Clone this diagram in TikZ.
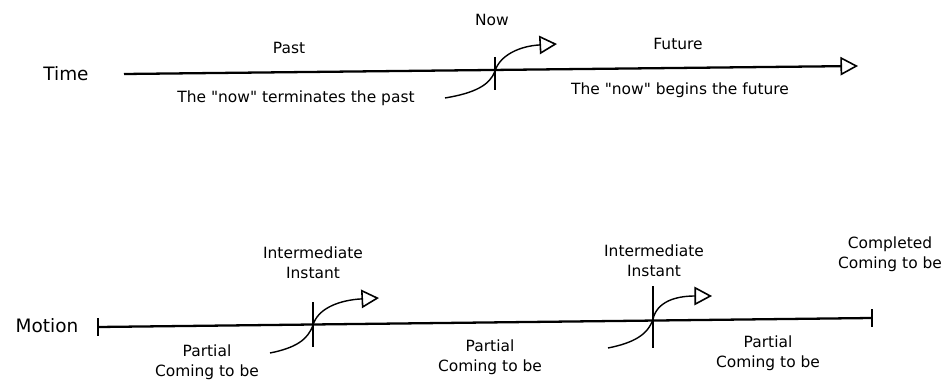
\documentclass[tikz,border=0pt]{standalone}
\usepackage{fontspec}
\setmainfont{DejaVu Sans}
\usetikzlibrary{arrows.meta}
\begin{document}
\begin{tikzpicture}[x=0.02cm,y=-0.02cm,
  axis/.style={line width=1.3pt},
  tickmark/.style={line width=1.1pt},
  hook/.style={line width=0.8pt},
  opentip/.style={-{Triangle[open,length=10pt,width=10.5pt,line width=0.9pt]}},
  lbl/.style={font=\fontsize{8.8}{11.5}\selectfont, inner sep=0pt, align=center},
  side/.style={font=\fontsize{10.5}{12}\selectfont, inner sep=0pt}]
\useasboundingbox (0,0) rectangle (945,381);

% ---- Time ----
\node[side] (time) at (66,74) {Time};
\coordinate (tstart) at (124,74);
\coordinate (tend) at (858,66);
\coordinate (now) at (495,71);
\draw[axis,opentip] (tstart) -- (tend);
\draw[tickmark] (495,57) coordinate (nowtop) -- (495,90) coordinate (nowbot);
\coordinate (nowin) at (445,98);
\coordinate (nowout) at (557,44);
\draw[hook,opentip] (nowin) .. controls (475,93) and (490,85) .. (now)
  .. controls (500,55) and (520,46) .. (nowout);

\node[lbl] (nowlbl) at (492,20) {Now};
\node[lbl] (past) at (289,48) {Past};
\node[lbl] (future) at (678,44) {Future};
\node[lbl] (term) at (296,98) {The \textquotedbl now\textquotedbl{} terminates the past};
\node[lbl] (begins) at (680,90) {The \textquotedbl now\textquotedbl{} begins the future};

% ---- Motion ----
\node[side] (motion) at (47,326) {Motion};
\coordinate (mstart) at (98,327);
\coordinate (mend) at (872,318);
\draw[axis] (mstart) -- (mend);
\draw[tickmark] (98,318) -- (98,336);
\draw[tickmark] (872,309) -- (872,327);

% first intermediate instant
\coordinate (ia) at (313,325);
\draw[tickmark] (313,302) -- (313,347);
\coordinate (iain) at (270,353);
\coordinate (iaout) at (379,298);
\draw[hook,opentip] (iain) .. controls (295,348) and (308,340) .. (ia)
  .. controls (318,308) and (340,300) .. (iaout);

% second intermediate instant
\coordinate (ib) at (653,319);
\draw[tickmark] (653,286) -- (653,348);
\coordinate (ibin) at (608,348);
\coordinate (ibout) at (712,296);
\draw[hook,opentip] (ibin) .. controls (633,343) and (648,335) .. (ib)
  .. controls (657,302) and (675,296) .. (ibout);

\node[lbl] (inta) at (313,263) {Intermediate\\Instant};
\node[lbl] (intb) at (654,261) {Intermediate\\Instant};
\node[lbl] (compl) at (890,254) {Completed\\Coming to be};
\node[lbl] (parta) at (207,362) {Partial\\Coming to be};
\node[lbl] (partb) at (490,357) {Partial\\Coming to be};
\node[lbl] (partc) at (768,353) {Partial\\Coming to be};
\end{tikzpicture}
\end{document}
